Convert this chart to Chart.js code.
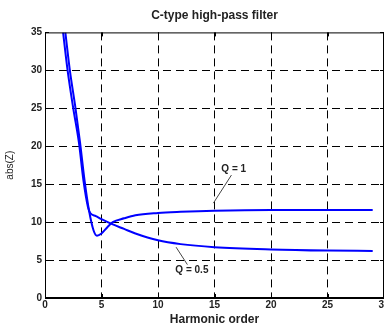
<!DOCTYPE html>
<html lang="en">
<head>
<meta charset="UTF-8">
<title>C-type high-pass filter</title>
<script src="https://cdn.jsdelivr.net/npm/chart.js"></script>
<style>
    body { margin: 0; background: #fff; }
    #contenedor { width: 384px; height: 327px; }
</style>
</head>
<body>
<div id="contenedor"><canvas id="canvas"></canvas></div>
<script>
    // values
    const xTicks = [0, 5, 10, 15, 20, 25, 30]
    const yTicks = [0, 5, 10, 15, 20, 25, 30, 35]

    const hQ05 = [1.6, 2.0, 2.5, 3.0, 3.4, 3.8, 4.0, 4.5, 5, 6, 7, 8, 10, 12, 15, 20, 25, 29]
    const zQ05 = [35, 30, 25, 20.5, 15.5, 12, 11.2, 10.8, 10.4, 9.7, 9.1, 8.5, 7.6, 7.1, 6.7, 6.4, 6.25, 6.2]

    const hQ1 = [1.8, 2.2, 2.7, 3.1, 3.5, 3.9, 4.3, 4.6, 5, 5.5, 6, 7, 8, 10, 12, 15, 20, 25, 29]
    const zQ1 = [35, 30, 25, 20.5, 15.5, 11.5, 8.9, 8.2, 8.5, 9.3, 10.0, 10.5, 10.9, 11.2, 11.35, 11.5, 11.6, 11.6, 11.6]

    // annotation: label text, label pos, arrow from -> to (data units)
    const notes = [
        { text: 'Q = 1', at: [16.7, 17.0], from: [16.5, 16.2], to: [14.9, 12.5] },
        { text: 'Q = 0.5', at: [13.0, 3.6], from: [12.6, 4.4], to: [11.6, 6.7] }
    ]

    function pares(xs, ys) {
        return xs.map((x, i) => ({ x: x, y: ys[i] }))
    }

    const ink = '#222'
    const fuente = '"Liberation Sans", Arial, sans-serif'

    const marco = {
        id: 'marco',
        afterDraw(chart) {
            const c = chart.ctx
            const a = chart.chartArea
            const sx = chart.scales.x
            const sy = chart.scales.y
            c.save()
            c.strokeStyle = '#000'
            c.lineWidth = 1
            c.strokeRect(a.left + 0.5, a.top + 0.5, a.right - a.left - 1, a.bottom - a.top - 1)
            c.beginPath()
            xTicks.forEach(t => {
                const px = Math.round(sx.getPixelForValue(t)) + 0.5
                c.moveTo(px, a.bottom); c.lineTo(px, a.bottom - 4)
                c.moveTo(px, a.top); c.lineTo(px, a.top + 4)
            })
            yTicks.forEach(t => {
                const py = Math.round(sy.getPixelForValue(t)) + 0.5
                c.moveTo(a.left, py); c.lineTo(a.left + 4, py)
                c.moveTo(a.right, py); c.lineTo(a.right - 4, py)
            })
            c.stroke()

            c.strokeStyle = '#444'
            c.fillStyle = ink
            c.font = 'bold 10px ' + fuente
            c.textAlign = 'center'
            c.textBaseline = 'middle'
            notes.forEach(n => {
                c.beginPath()
                c.moveTo(sx.getPixelForValue(n.from[0]), sy.getPixelForValue(n.from[1]))
                c.lineTo(sx.getPixelForValue(n.to[0]), sy.getPixelForValue(n.to[1]))
                c.stroke()
                c.fillText(n.text, sx.getPixelForValue(n.at[0]), sy.getPixelForValue(n.at[1]))
            })
            c.restore()
        }
    }

    const ctx = document.getElementById('canvas')
    const graph = new Chart(ctx, {
        type: 'line',
        data: {
            datasets: [{
                label: 'Q = 0.5',
                data: pares(hQ05, zQ05),
                borderColor: 'rgb(0,0,255)',
                borderWidth: 2,
                pointRadius: 0,
                cubicInterpolationMode: 'monotone'
            }, {
                label: 'Q = 1',
                data: pares(hQ1, zQ1),
                borderColor: 'rgb(0,0,255)',
                borderWidth: 2,
                pointRadius: 0,
                cubicInterpolationMode: 'monotone'
            }]
        },
        options: {
            responsive: true,
            maintainAspectRatio: false,
            animation: false,
            layout: { padding: 0 },
            plugins: {
                legend: { display: false },
                tooltip: { enabled: false },
                title: {
                    display: true,
                    text: 'C-type high-pass filter',
                    fullSize: false,
                    color: ink,
                    font: { family: fuente, size: 12, weight: 'bold' },
                    padding: { top: 8, bottom: 10 }
                }
            },
            scales: {
                x: {
                    type: 'linear',
                    min: 0,
                    max: 30,
                    afterBuildTicks: s => { s.ticks = xTicks.map(v => ({ value: v })) },
                    afterFit: s => { s.paddingRight = 0; s.paddingLeft = 0; s.height = 29 },
                    grid: {
                        color: c => (c.tick.value === 0 || c.tick.value === 30) ? 'transparent' : '#000',
                        lineWidth: 1,
                        drawTicks: false
                    },
                    border: { color: '#000', dash: [8, 5] },
                    ticks: {
                        color: ink,
                        padding: 1,
                        maxRotation: 0,
                        font: { family: fuente, size: 10, weight: 'bold' }
                    },
                    title: {
                        display: true,
                        text: 'Harmonic order',
                        color: ink,
                        padding: { top: 0, bottom: 0 },
                        font: { family: fuente, size: 12, weight: 'bold' }
                    }
                },
                y: {
                    min: 0,
                    max: 35,
                    afterBuildTicks: s => { s.ticks = yTicks.map(v => ({ value: v })) },
                    afterFit: s => { s.width = 45; s.paddingTop = 0; s.paddingBottom = 0 },
                    grid: {
                        color: c => (c.tick.value === 0 || c.tick.value === 35) ? 'transparent' : '#000',
                        lineWidth: 1,
                        drawTicks: false
                    },
                    border: { color: '#000', dash: [8, 5] },
                    ticks: {
                        color: ink,
                        padding: 3,
                        font: { family: fuente, size: 10, weight: 'bold' }
                    },
                    title: {
                        display: true,
                        text: 'abs(Z)',
                        color: ink,
                        padding: { top: 4, bottom: 0 },
                        font: { family: fuente, size: 10, weight: 'normal' }
                    }
                }
            }
        },
        plugins: [marco]
    })
</script>
</body>
</html>
